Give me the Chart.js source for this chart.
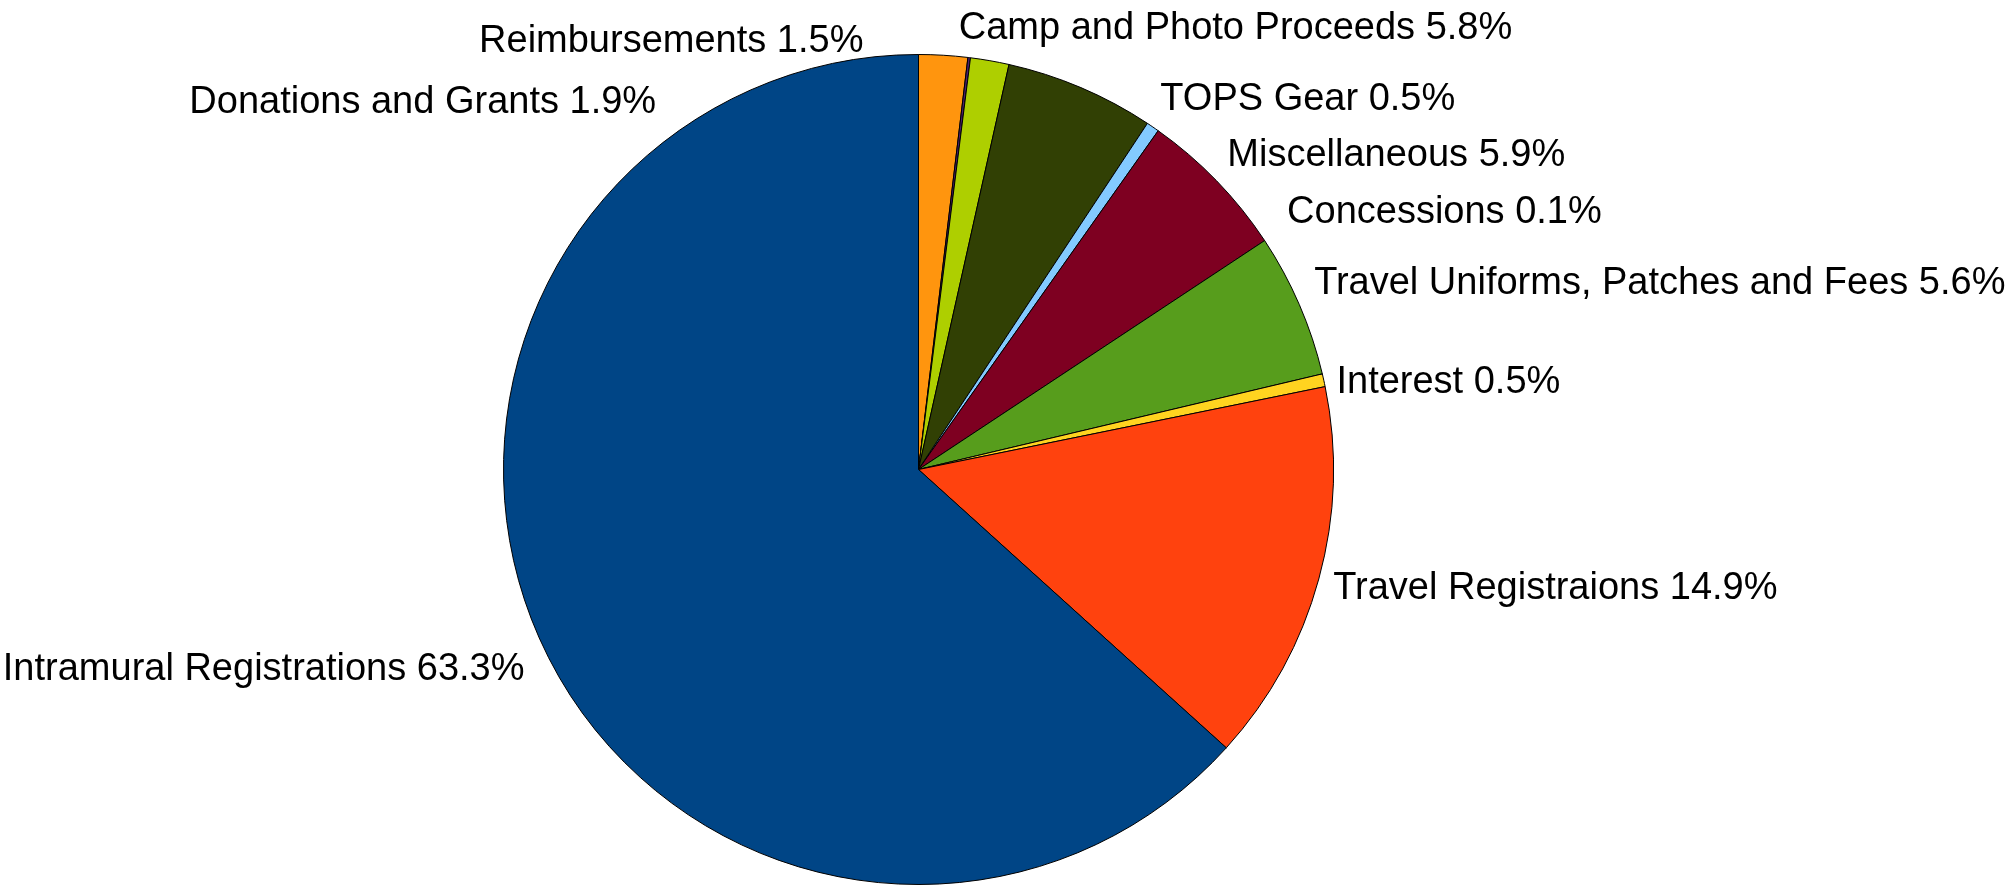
<!DOCTYPE html>
<html>
<head>
<meta charset="utf-8">
<script src="https://cdn.jsdelivr.net/npm/chart.js@4.4.0/dist/chart.umd.min.js"></script>
<style>
html,body{margin:0;padding:0;background:#ffffff;overflow:hidden;}
#wrap{width:2010px;height:885px;position:relative;}
</style>
</head>
<body>
<div id="wrap"><canvas id="c" width="2010" height="885"></canvas></div>
<script>
// ---- data (clockwise from 12 o'clock) ----
const categories = [
  "Donations and Grants",
  "Concessions",
  "Reimbursements",
  "Camp and Photo Proceeds",
  "TOPS Gear",
  "Miscellaneous",
  "Travel Uniforms, Patches and Fees",
  "Interest",
  "Travel Registraions",
  "Intramural Registrations"
];
const shares = [1.9, 0.1, 1.5, 5.8, 0.5, 5.9, 5.6, 0.5, 14.9, 63.3];
const sliceColors = [
  "#ff950e", "#4b1f6f", "#aecf00", "#314004", "#83caff",
  "#7e0021", "#579d1c", "#ffd320", "#ff420e", "#004586"
];

// label placement tweaks (relative to the natural outside-anchor of each slice)
const labelTweaks = {
  0: {dx: -288, dy: 81, align: "right"},
  1: {dx: 316, dy: 189},
  2: {dx: -129, dy: 14, align: "right"},
  3: {dx: -128, dy: -28},
  4: {dx: -1, dy: 0},
  5: {dx: 0, dy: -2},
  6: {dx: 1, dy: -9},
  7: {dx: -2, dy: 7},
  8: {dx: 0, dy: -3},
  9: {dx: -1, dy: 14}
};

const outsideLabels = {
  id: "outsideLabels",
  afterDatasetsDraw(chart, args, opts) {
    const ctx = chart.ctx;
    const meta = chart.getDatasetMeta(0);
    const ds = chart.data.datasets[0];
    ctx.save();
    ctx.font = opts.font;
    ctx.fillStyle = opts.color;
    ctx.textBaseline = "middle";
    const half = opts.halfHeight;
    meta.data.forEach((arc, i) => {
      const p = arc.getProps(["x", "y", "startAngle", "endAngle", "outerRadius"], true);
      const mid = (p.startAngle + p.endAngle) / 2;
      const ux = Math.cos(mid), uy = Math.sin(mid);
      const r = p.outerRadius + opts.gap;
      let ax = p.x + ux * r;
      let ay = p.y + uy * r + uy * half + opts.baseShift;
      let align = ux >= 0 ? "left" : "right";
      const t = (opts.tweaks || {})[i];
      if (t) {
        ax += t.dx || 0;
        ay += t.dy || 0;
        if (t.align) align = t.align;
      }
      ctx.textAlign = align;
      const txt = chart.data.labels[i] + " " + ds.data[i].toFixed(1) + "%";
      ctx.fillText(txt, ax, ay);
    });
    ctx.restore();
  }
};

new Chart(document.getElementById("c"), {
  type: "pie",
  data: {
    labels: categories,
    datasets: [{
      data: shares,
      backgroundColor: sliceColors,
      borderColor: "#000000",
      borderWidth: 1
    }]
  },
  options: {
    responsive: false,
    animation: false,
    events: [],
    rotation: 0,
    layout: {padding: {top: 54, bottom: 0, left: 503, right: 676}},
    plugins: {
      legend: {display: false},
      tooltip: {enabled: false},
      title: {display: false},
      outsideLabels: {
        font: "38px 'Liberation Sans', Arial, sans-serif",
        color: "#000000",
        gap: 15,
        halfHeight: 22,
        baseShift: 3,
        tweaks: labelTweaks
      }
    }
  },
  plugins: [outsideLabels]
});
</script>
</body>
</html>
